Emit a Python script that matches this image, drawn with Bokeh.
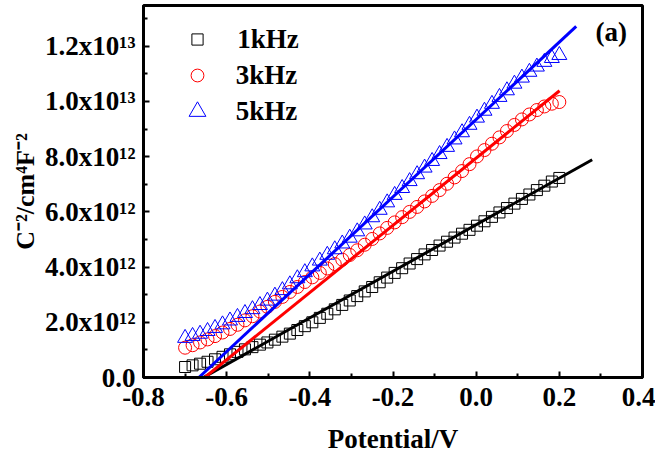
import math
from bokeh.plotting import figure
from bokeh.models import FixedTicker, Range1d, Label, Legend, LegendItem
from bokeh.embed import file_html
from bokeh.resources import INLINE

# ---------------- data (C^-2 in units of 1e12 cm^4 F^-2) ----------------
potential = [-0.700, -0.682, -0.664, -0.646, -0.628, -0.610, -0.592, -0.574, -0.556, -0.538,
             -0.520, -0.502, -0.484, -0.466, -0.448, -0.430, -0.412, -0.394, -0.376, -0.358,
             -0.340, -0.322, -0.304, -0.286, -0.268, -0.250, -0.232, -0.214, -0.196, -0.178,
             -0.160, -0.142, -0.124, -0.106, -0.088, -0.070, -0.052, -0.034, -0.016, 0.002,
             0.020, 0.038, 0.056, 0.074, 0.092, 0.110, 0.128, 0.146, 0.164, 0.182, 0.200]

c2_1khz = [0.38, 0.44, 0.50, 0.57, 0.66, 0.75, 0.84, 0.93, 1.02, 1.10,
           1.19, 1.27, 1.37, 1.48, 1.59, 1.72, 1.86, 2.00, 2.16, 2.31,
           2.47, 2.63, 2.79, 2.95, 3.12, 3.28, 3.45, 3.62, 3.79, 3.96,
           4.13, 4.29, 4.46, 4.62, 4.78, 4.92, 5.07, 5.21, 5.35, 5.50,
           5.66, 5.82, 5.98, 6.14, 6.30, 6.47, 6.63, 6.79, 6.95, 7.10, 7.23]

c2_3khz = [1.08, 1.17, 1.27, 1.38, 1.50, 1.63, 1.76, 1.91, 2.07, 2.22,
           2.39, 2.56, 2.74, 2.92, 3.10, 3.28, 3.46, 3.63, 3.79, 3.95,
           4.11, 4.27, 4.44, 4.61, 4.81, 5.02, 5.22, 5.42, 5.62, 5.81,
           6.00, 6.18, 6.38, 6.58, 6.79, 7.02, 7.25, 7.48, 7.73, 8.01,
           8.24, 8.47, 8.70, 8.93, 9.15, 9.35, 9.53, 9.69, 9.82, 9.92, 9.98]

c2_5khz = [1.43, 1.50, 1.58, 1.68, 1.79, 1.92, 2.06, 2.19, 2.33, 2.47,
           2.62, 2.78, 2.96, 3.16, 3.37, 3.59, 3.81, 4.02, 4.23, 4.44,
           4.64, 4.85, 5.06, 5.29, 5.54, 5.80, 6.07, 6.34, 6.61, 6.86,
           7.11, 7.36, 7.60, 7.84, 8.09, 8.35, 8.62, 8.88, 9.15, 9.41,
           9.66, 9.91, 10.16, 10.40, 10.64, 10.86, 11.07, 11.26, 11.43, 11.57, 11.68]

# linear (Mott-Schottky) fits: end points
fit_1khz_x = [-0.656, 0.279]
fit_1khz_y = [0.0, 7.89]
fit_3khz_x = [-0.653, 0.2005]
fit_3khz_y = [0.0, 10.39]
fit_5khz_x = [-0.667, 0.2406]
fit_5khz_y = [0.0, 12.72]

series_labels = ["1kHz", "3kHz", "5kHz"]

x_ticks = [-0.8, -0.6, -0.4, -0.2, 0.0, 0.2, 0.4]
x_minor = [-0.7, -0.5, -0.3, -0.1, 0.1, 0.3]
x_tick_labels = ["-0.8", "-0.6", "-0.4", "-0.2", "0.0", "0.2", "0.4"]

y_ticks = [0.0, 2.0e12, 4.0e12, 6.0e12, 8.0e12, 1.0e13, 1.2e13]
y_minor = [1.0e12, 3.0e12, 5.0e12, 7.0e12, 9.0e12, 1.1e13, 1.3e13]
y_tick_labels = ["0.0", "2.0x10\u00b9\u00b2", "4.0x10\u00b9\u00b2", "6.0x10\u00b9\u00b2",
                 "8.0x10\u00b9\u00b2", "1.0x10\u00b9\u00b3", "1.2x10\u00b9\u00b3"]

UNIT = 1e12
FONT = "Liberation Serif"

# frame geometry (canvas pixels)
W, H = 655, 459
FL, FR, FT, FB = 143, 642, 5, 377

# ---------------- figure ----------------
p = figure(width=W, height=H, output_backend="svg", toolbar_location=None,
           title=None,
           x_range=Range1d(-0.8, 0.4), y_range=Range1d(0, 13.478e12),
           min_border_left=FL, min_border_right=W - FR, min_border_top=FT,
           min_border_bottom=H - FB,
           background_fill_color="white", border_fill_color="white")
p.xgrid.visible = False
p.ygrid.visible = False
p.outline_line_color = "black"
p.outline_line_width = 3
p.outline_line_alpha = 1.0

r1 = p.scatter(potential, [v * UNIT for v in c2_1khz], marker="square", size=11,
               fill_color=None, line_color="black", line_width=1)
r2 = p.scatter(potential, [v * UNIT for v in c2_3khz], marker="circle", size=13,
               fill_color=None, line_color="red", line_width=1)
r3 = p.scatter(potential, [v * UNIT for v in c2_5khz], marker="triangle", size=15,
               fill_color=None, line_color="blue", line_width=1)

p.line(fit_1khz_x, [v * UNIT for v in fit_1khz_y], line_color="black", line_width=3)
p.line(fit_3khz_x, [v * UNIT for v in fit_3khz_y], line_color="red", line_width=3)
p.line(fit_5khz_x, [v * UNIT for v in fit_5khz_y], line_color="blue", line_width=3)

# ---------------- axes ----------------
p.xaxis.ticker = FixedTicker(ticks=x_ticks, minor_ticks=x_minor)
p.xaxis.major_label_overrides = {t: s for t, s in zip(x_ticks, x_tick_labels)}
p.yaxis.ticker = FixedTicker(ticks=y_ticks, minor_ticks=y_minor)
p.yaxis.major_label_overrides = {t: s for t, s in zip(y_ticks, y_tick_labels)}

for ax in (p.xaxis[0], p.yaxis[0]):
    ax.axis_line_width = 3
    ax.axis_line_color = "black"
    ax.major_tick_in = 6
    ax.major_tick_out = 0
    ax.minor_tick_in = 4
    ax.minor_tick_out = 0
    ax.major_tick_line_width = 2
    ax.minor_tick_line_width = 2
    ax.major_tick_line_color = "black"
    ax.minor_tick_line_color = "black"
    ax.major_label_text_font = FONT
    ax.major_label_text_font_style = "bold"
    ax.major_label_text_font_size = "27px"
    ax.major_label_text_color = "black"
    ax.axis_label_text_font = FONT
    ax.axis_label_text_font_style = "bold"
    ax.axis_label_text_color = "black"
p.xaxis.major_label_standoff = 10
p.yaxis.major_label_standoff = 8

p.xaxis.axis_label = "Potential/V"
p.xaxis.axis_label_standoff = 15
p.xaxis.axis_label_text_font_size = "27px"

p.yaxis.axis_label = "C\u207b\u00b2/cm\u2074F\u207b\u00b2"
p.yaxis.axis_label_standoff = 2
p.yaxis.axis_label_text_font_size = "26px"

p.add_layout(Label(x=0.287, y=12.52e12, text="(a)", text_align="left",
                   text_baseline="middle", text_font=FONT, text_font_style="bold",
                   text_font_size="27px", text_color="black"))

# ---------------- legend (one box per entry so marker sizes match) ----------------
legend_specs = [
    (r1, series_labels[0], 11, 39),
    (r2, series_labels[1], 13, 75),
    (r3, series_labels[2], 17, 111),
]
for rend, lab, msize, cy in legend_specs:
    gw = msize / 0.4
    gh = 42
    leg = Legend(items=[LegendItem(label=lab, renderers=[rend])],
                 location=(197 - gw / 2 - FL, FB - (cy + gh / 2)),
                 glyph_width=int(round(gw)), glyph_height=gh,
                 label_standoff=int(round(39.7 - gw / 2)),
                 padding=0, margin=0, spacing=0,
                 border_line_color=None, background_fill_alpha=0,
                 label_text_font=FONT, label_text_font_style="bold",
                 label_text_font_size="27px", label_text_color="black")
    p.add_layout(leg)

open("out.html", "w").write(file_html(p, INLINE))
